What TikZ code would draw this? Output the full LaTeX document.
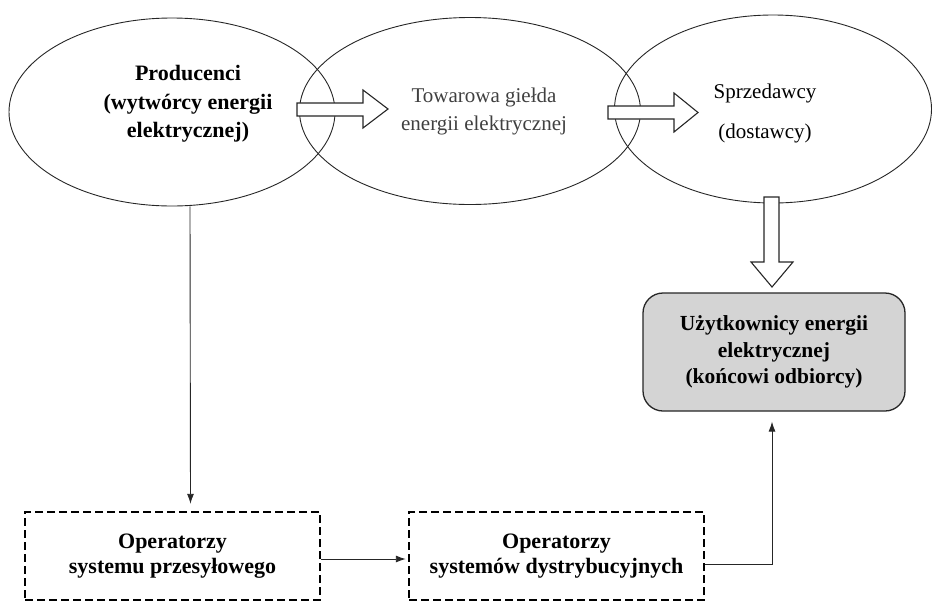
\documentclass[tikz,border=0pt]{standalone}
\usepackage{fontspec}
\setmainfont{Liberation Serif}
\usetikzlibrary{shapes.geometric,arrows.meta}
\begin{document}
\begin{tikzpicture}[x=1pt,y=-1pt,
  ell/.style={draw=black!85,line width=0.9pt,ellipse,inner sep=0pt},
  etext/.style={align=center,inner sep=0pt,font=\fontsize{21}{28}\selectfont},
  barrow/.style={draw=black!85,line width=1.1pt,fill=white,line join=miter},
  dbox/.style={draw=black,line width=2.4pt,dash pattern=on 8pt off 4pt,
    minimum width=295pt,minimum height=88pt,align=center,
    font=\bfseries\fontsize{22}{25}\selectfont},
  ubox/.style={draw=black!85,line width=1.3pt,rounded corners=20pt,fill=black!17,
    minimum width=262pt,minimum height=118pt,align=center,
    font=\bfseries\fontsize{21.5}{26.5}\selectfont},
  conn/.style={draw=black!85,line width=0.9pt,-{Latex[length=10pt,width=7pt]}}
]
\useasboundingbox (0,0) rectangle (933,600);
\node[ell,minimum width=326pt,minimum height=188pt] (E1) at (172,112) {};
\node[ell,minimum width=341pt,minimum height=187pt] (E2) at (470,111) {};
\node[ell,minimum width=317pt,minimum height=188pt] (E3) at (773,109) {};
\node[etext,font=\bfseries\fontsize{22}{28.5}\selectfont] (T1) at (188,104)
  {Producenci\\(wytwórcy energii\\elektrycznej)};
\node[etext,text=black!75] (T2) at (484,111)
  {Towarowa giełda\\energii elektrycznej};
\node[etext] (T3) at (765,113)
  {Sprzedawcy\\[12pt](dostawcy)};
% block arrows
\draw[barrow] (297,103) -- (363,103) -- (363,90) -- (388,109) -- (363,128)
  -- (363,116) -- (297,116) -- cycle;
\draw[barrow] (608,106) -- (674,106) -- (674,93) -- (698,112.5) -- (674,132)
  -- (674,119) -- (608,119) -- cycle;
\draw[barrow] (764,197) -- (764,262) -- (751,262) -- (772,287) -- (793,262)
  -- (779,262) -- (779,197) -- cycle;
\node[ubox] (U) at (774,352) {Użytkownicy energii\\elektrycznej\\(końcowi odbiorcy)};
\node[dbox] (B1) at (172.5,556) {Operatorzy\\systemu przesyłowego};
\node[dbox] (B2) at (556.5,556) {Operatorzy\\systemów dystrybucyjnych};
\draw[conn] ([xshift=18pt]E1.south) -- ([xshift=18pt,yshift=7pt]B1.north);
\draw[conn] ([yshift=-3pt]B1.east) -- ([xshift=-2pt,yshift=-3pt]B2.west);
\draw[conn] ([yshift=-8pt]B2.east) -| ([xshift=-2pt,yshift=-10pt]U.south);
\end{tikzpicture}
\end{document}
